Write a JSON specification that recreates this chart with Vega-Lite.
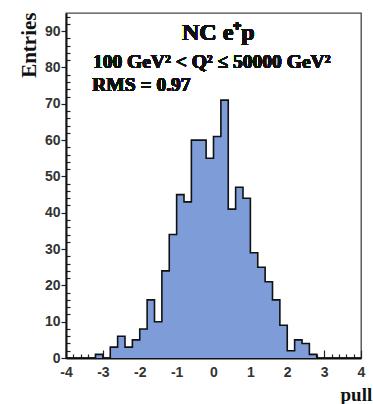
{
  "$schema": "https://vega.github.io/schema/vega-lite/v6.json",
  "width": 295,
  "height": 345,
  "autosize": "none",
  "padding": {"left": 66, "top": 13, "right": 12, "bottom": 46},
  "background": "white",
  "config": {
    "view": {"stroke": "#444", "strokeWidth": 1.3},
    "axis": {
      "domain": true,
      "domainColor": "#111",
      "domainWidth": 2,
      "grid": false,
      "tickColor": "#222",
      "tickWidth": 1.2,
      "labelFont": "Liberation Sans",
      "labelFontWeight": "bold",
      "labelFontSize": 14,
      "labelColor": "#333"
    }
  },
  "data": {"values": [
    {"lo": -4.0, "n": 0}, {"lo": -3.8, "n": 0}, {"lo": -3.6, "n": 0}, {"lo": -3.4, "n": 0},
    {"lo": -3.2, "n": 1}, {"lo": -3.0, "n": 0}, {"lo": -2.8, "n": 3}, {"lo": -2.6, "n": 6},
    {"lo": -2.4, "n": 3}, {"lo": -2.2, "n": 5}, {"lo": -2.0, "n": 8}, {"lo": -1.8, "n": 16},
    {"lo": -1.6, "n": 10}, {"lo": -1.4, "n": 24}, {"lo": -1.2, "n": 34}, {"lo": -1.0, "n": 45},
    {"lo": -0.8, "n": 43}, {"lo": -0.6, "n": 60}, {"lo": -0.4, "n": 60}, {"lo": -0.2, "n": 55},
    {"lo": 0.0, "n": 61}, {"lo": 0.2, "n": 71}, {"lo": 0.4, "n": 41}, {"lo": 0.6, "n": 47},
    {"lo": 0.8, "n": 44}, {"lo": 1.0, "n": 29}, {"lo": 1.2, "n": 25}, {"lo": 1.4, "n": 21},
    {"lo": 1.6, "n": 16}, {"lo": 1.8, "n": 9}, {"lo": 2.0, "n": 2}, {"lo": 2.2, "n": 5},
    {"lo": 2.4, "n": 4}, {"lo": 2.6, "n": 1}, {"lo": 2.8, "n": 0}, {"lo": 3.0, "n": 0},
    {"lo": 3.2, "n": 0}, {"lo": 3.4, "n": 0}, {"lo": 3.6, "n": 0}, {"lo": 3.8, "n": 0},
    {"lo": 4.0, "n": 0}
  ]},
  "layer": [
    {
      "mark": {"type": "area", "interpolate": "step-after", "color": "#7d9cd8", "opacity": 1},
      "encoding": {
        "x": {"field": "lo", "type": "quantitative", "scale": {"domain": [-4, 4], "nice": false, "zero": false},
          "axis": {"orient": "bottom", "tickCount": 200, "labelOverlap": false, "labelBound": false, "labelFlush": false,
            "values": [-4,-3.8,-3.6,-3.4,-3.2,-3,-2.8,-2.6,-2.4,-2.2,-2,-1.8,-1.6,-1.4,-1.2,-1,-0.8,-0.6,-0.4,-0.2,0,0.2,0.4,0.6,0.8,1,1.2,1.4,1.6,1.8,2,2.2,2.4,2.6,2.8,3,3.2,3.4,3.6,3.8,4],
            "tickSize": {"condition": {"test": "abs(datum.value - round(datum.value)) < 0.01", "value": -8}, "value": -4},
            "labelExpr": "abs(datum.value - round(datum.value)) < 0.01 ? toString(round(datum.value)) : ''",
            "labelPadding": 15, "labelBaseline": "top",
            "title": "pull", "titleFont": "Liberation Serif", "titleFontWeight": "bold", "titleFontSize": 19, "titleColor": "#111",
            "titleAnchor": "start", "titleAlign": "left", "titleBaseline": "alphabetic", "titleX": 274, "titleY": 42}},
        "y": {"field": "n", "type": "quantitative", "scale": {"domain": [0, 95], "nice": false},
          "axis": {"orient": "left", "tickCount": 200, "labelOverlap": false, "labelBound": false, "labelFlush": false,
            "values": [0,2,4,6,8,10,12,14,16,18,20,22,24,26,28,30,32,34,36,38,40,42,44,46,48,50,52,54,56,58,60,62,64,66,68,70,72,74,76,78,80,82,84,86,88,90,92,94],
            "tickSize": {"condition": {"test": "datum.value % 10 === 0", "value": 5}, "value": -4},
            "labelExpr": "datum.value % 10 === 0 ? toString(datum.value) : ''",
            "labelPadding": 1,
            "title": "Entries", "titleFont": "Liberation Serif", "titleFontWeight": "bold", "titleFontSize": 21, "titleColor": "#111",
            "titleAngle": -90, "titleAnchor": "end", "titleAlign": "right", "titleBaseline": "alphabetic", "titleX": -31, "titleY": -1}}
      }
    },
    {
      "mark": {"type": "line", "interpolate": "step-after", "color": "#111", "strokeWidth": 1.6},
      "encoding": {
        "x": {"field": "lo", "type": "quantitative"},
        "y": {"field": "n", "type": "quantitative"}
      }
    },
    {
      "mark": {"type": "text", "font": "Liberation Serif", "fontWeight": "bold", "fontSize": 24, "align": "center", "baseline": "alphabetic", "color": "#111"},
      "encoding": {"x": {"datum": 0.13, "type": "quantitative"}, "y": {"datum": 87.6, "type": "quantitative"}, "text": {"value": "NC e⁺p"}}
    },
    {
      "mark": {"type": "text", "font": "Liberation Serif", "fontWeight": "bold", "fontSize": 19.5, "align": "left", "baseline": "alphabetic", "color": "#111"},
      "encoding": {"x": {"datum": -3.27, "type": "quantitative"}, "y": {"datum": 79.8, "type": "quantitative"}, "text": {"value": "100 GeV² < Q² ≤ 50000 GeV²"}}
    },
    {
      "mark": {"type": "text", "font": "Liberation Serif", "fontWeight": "bold", "fontSize": 19.5, "align": "left", "baseline": "alphabetic", "color": "#111"},
      "encoding": {"x": {"datum": -3.29, "type": "quantitative"}, "y": {"datum": 73.6, "type": "quantitative"}, "text": {"value": "RMS = 0.97"}}
    }
  ]
}
